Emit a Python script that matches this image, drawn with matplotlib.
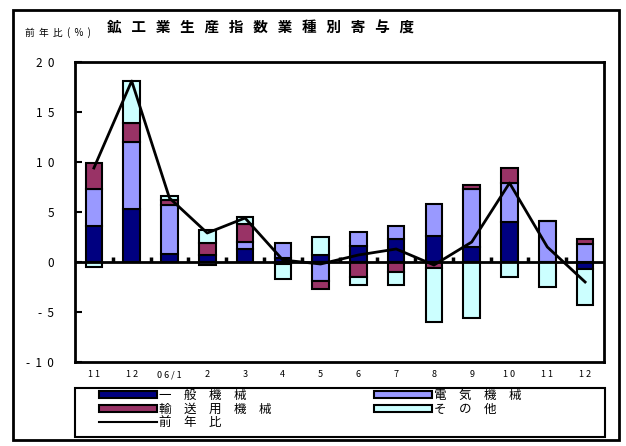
import matplotlib.pyplot as plt
import matplotlib.patches as mpatches
import matplotlib.lines as mlines
import numpy as np

plt.rcParams['font.family'] = ['Noto Sans CJK JP', 'DejaVu Sans']

# 月ラベル
months = ['1 1', '1 2', '0 6 / 1', '2', '3', '4', '5', '6', '7', '8', '9', '1 0', '1 1', '1 2']

# 業種別寄与度 (%ポイント)
general = [3.6, 5.3, 0.8, 0.7, 1.3, 0.4, 0.7, 1.6, 2.3, 2.6, 1.5, 4.0, 0.0, -0.7]
electric = [3.7, 6.7, 4.9, -0.3, 0.7, 1.5, -1.9, 1.4, 1.3, 3.2, 5.8, 3.9, 4.1, 1.8]
transport = [2.6, 1.9, 0.5, 1.2, 1.8, -0.2, -0.8, -1.5, -1.0, -0.6, 0.4, 1.5, 0.0, 0.5]
other = [-0.5, 4.2, 0.4, 1.3, 0.7, -1.5, 1.8, -0.8, -1.3, -5.4, -5.6, -1.5, -2.5, -3.6]

# 前年比
yoy = [9.4, 18.1, 6.4, 2.9, 4.4, 0.2, -0.2, 0.7, 1.3, -0.3, 2.0, 7.9, 1.5, -2.0]

WS = '\u3000'


def spaced(s, sep):
    return sep.join(list(s))


series = [
    ('一般機械', general, '#000080'),
    ('電気機械', electric, '#9999FF'),
    ('輸送用機械', transport, '#993366'),
    ('その他', other, '#CCFFFF'),
]

fig = plt.figure(figsize=(6.26, 4.46), dpi=100)
ax = fig.add_axes([75 / 626, 1 - 362 / 446, 529 / 626, 300 / 446])

x = np.arange(len(months))
pos_bottom = np.zeros(len(months))
neg_bottom = np.zeros(len(months))
for name, vals, color in series:
    v = np.array(vals)
    bottom = np.where(v >= 0, pos_bottom, neg_bottom)
    ax.bar(x, v, 0.44, bottom=bottom, color=color, edgecolor='black', linewidth=1.5, zorder=2)
    pos_bottom += np.where(v >= 0, v, 0)
    neg_bottom += np.where(v < 0, v, 0)

ax.plot(x, yoy, color='black', linewidth=2, zorder=4)
ax.axhline(0, color='black', linewidth=2, zorder=3)

ax.set_xlim(-0.5, len(months) - 0.5)
ax.set_ylim(-10, 20)
ax.set_yticks([20, 15, 10, 5, 0, -5, -10])
ax.set_yticklabels(['2  0', '1  5', '1  0', '5', '0', '-  5', '-  1  0'], fontsize=8.5)
ax.tick_params(axis='y', direction='in', length=5, width=1.5, pad=15)
ax.set_xticks(x)
ax.set_xticklabels(months, fontsize=6.5)
ax.tick_params(axis='x', length=0, pad=6)
for sp in ax.spines.values():
    sp.set_linewidth(2)

# ゼロ線上の区切り目盛
sec = ax.secondary_xaxis(1 / 3)
sec.set_xticks(x[:-1] + 0.5)
sec.set_xticklabels([])
sec.tick_params(direction='in', length=3.5, width=2.5)
sec.spines['bottom'].set_visible(False)

fig.text(25 / 626, 1 - 33 / 446, spaced('前年比(%)', '  '), fontsize=7, va='center', ha='left')
fig.text(107 / 626, 1 - 28 / 446, spaced('鉱工業生産指数業種別寄与度', '   '),
         fontsize=10.5, fontweight='bold', va='center', ha='left')

handles = [
    mpatches.Patch(facecolor='#000080', edgecolor='black', linewidth=1.5, label=spaced('一般機械', WS)),
    mpatches.Patch(facecolor='#993366', edgecolor='black', linewidth=1.5, label=spaced('輸送用機械', WS)),
    mlines.Line2D([], [], color='black', linewidth=1.5, label=spaced('前年比', WS)),
    mpatches.Patch(facecolor='#9999FF', edgecolor='black', linewidth=1.5, label=spaced('電気機械', WS)),
    mpatches.Patch(facecolor='#CCFFFF', edgecolor='black', linewidth=1.5, label=spaced('その他', WS)),
]
fig.legend(handles=handles, ncol=2, loc='upper left',
           bbox_to_anchor=(99 / 626, 1 - 389 / 446),
           fontsize=9, handlelength=4.6, handleheight=0.5,
           handletextpad=0.2, labelspacing=0.05, borderpad=0, borderaxespad=0,
           columnspacing=8.2, frameon=False)

# 凡例の枠
fig.patches.append(mpatches.Rectangle((75 / 626, 1 - 437 / 446), 530 / 626, 49 / 446,
                                      transform=fig.transFigure, fill=False,
                                      edgecolor='black', linewidth=1.5))
# 全体の枠
fig.patches.append(mpatches.Rectangle((13 / 626, 6 / 446), 606 / 626, 430 / 446,
                                      transform=fig.transFigure, fill=False,
                                      edgecolor='black', linewidth=2))

fig.savefig('out.png', dpi=100)
